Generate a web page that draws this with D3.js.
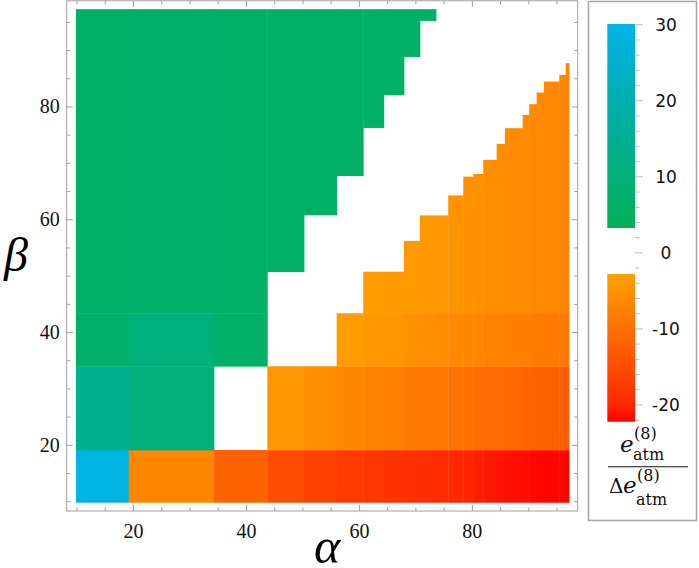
<!DOCTYPE html>
<html>
<head>
<meta charset="utf-8">
<script src="https://cdn.jsdelivr.net/npm/d3@7"></script>
<style>
  body { margin: 0; background: #fff; }
  svg { display: block; }
</style>
</head>
<body>
<script>
const SERIF = '"Liberation Serif"';
const TEXSERIF = '"DejaVu Serif"';
const SANS = '"DejaVu Sans"';

// column edges along alpha (23 columns)
const alphaEdges = [9.9, 19.24, 34.34, 43.78, 50.28, 56.06, 60.77, 64.4, 67.98, 70.8, 73.65,
  75.82, 78.48, 80.25, 82.02, 84.39, 85.86, 88.99, 90.16, 91.47, 92.77, 95.48, 96.61, 97.2];
// beta edges of the three lower bands, then the top of the data
const bandEdges = [9.8, 19.08, 33.93, 43.33];
const betaMax = 97.26;

// values per column in each band (0 = inside white gap)
const band1Values = [29, -6.5, -12, -15, -16.5, -17.5, -18, -18.5, -19, -19.3, -19.6, -20, -20.3,
  -20.6, -20.9, -21.1, -21.3, -21.5, -21.7, -21.8, -21.9, -22, -22.1];
const band2Values = [14, 10, 0, -4, -5.5, -6.5, -7.2, -7.8, -8.3, -8.8, -9.2, -9.6, -10, -10.4,
  -10.7, -11, -11.3, -11.6, -11.8, -12, -12.2, -12.4, -12.6];
const band3Values = [6.5, 10.5, 5.5, 0, 0, -3.4, -4, -4.5, -5, -5.4, -5.8, -6.2, -6.5, -6.8,
  -7.1, -7.4, -7.7, -7.9, -8.1, -8.3, -8.5, -8.6, -8.7];

// upper band (beta > 43.33): orange part up to orangeTop, green part from greenBottom
const orangeTop = [null, null, null, null, null, null, 50.7, 50.7, 56.16, 60.68, 60.68, 64.23,
  67.56, 68.04, 70.53, 73.37, 76.15, 78.51, 80.41, 82.47, 84.42, 85.6, 87.68];
const orangeValues = [null, null, null, null, null, null, -3.2, -3.5, -3.8, -4.1, -4.4, -4.7,
  -5, -5.2, -5.4, -5.6, -5.8, -6, -6.2, -6.3, -6.4, -6.5, -6.6];
const greenBottom = [43.33, 43.33, 43.33, 50.71, 60.77, 67.74, 76.26, 82.06, 88.85, 95.24,
  null, null, null, null, null, null, null, null, null, null, null, null, null];
const greenValues = [5.9, 6.3, 6, 5.9, 5.9, 5.9, 5.9, 5.9, 5.9, 5.9,
  null, null, null, null, null, null, null, null, null, null, null, null, null];

const majorTicks = [20, 40, 60, 80];
const minorTicks = [10, 15, 25, 30, 35, 45, 50, 55, 65, 70, 75, 85, 90, 95];

const colorValues = [-22.2, -20, -10, -2.8, 3.3, 10, 20, 30.1];
const colorHexes = ["#ff0000", "#ff2800", "#ff7000", "#ffa000", "#00b05c", "#00b078", "#00afb0", "#00b4e8"];
const legendTicks = [30, 20, 10, 0, -10, -20];

const negColor = d3.scaleLinear().domain(colorValues.slice(0, 4)).range(colorHexes.slice(0, 4)).clamp(true);
const posColor = d3.scaleLinear().domain(colorValues.slice(4)).range(colorHexes.slice(4)).clamp(true);
function color(v) {
  if (v > -2.8 && v < 3.3) return "#ffffff";
  return v <= -2.8 ? negColor(v) : posColor(v);
}

// build rectangles in data coordinates
const cells = [];
const bands = [band1Values, band2Values, band3Values];
for (let j = 0; j < alphaEdges.length - 1; j++) {
  const a0 = alphaEdges[j], a1 = alphaEdges[j + 1];
  bands.forEach((vals, i) => {
    cells.push({a0, a1, b0: bandEdges[i], b1: bandEdges[i + 1], v: vals[j]});
  });
  if (orangeTop[j] != null) cells.push({a0, a1, b0: bandEdges[3], b1: orangeTop[j], v: orangeValues[j]});
  if (greenBottom[j] != null) cells.push({a0, a1, b0: greenBottom[j], b1: betaMax, v: greenValues[j]});
}

const svg = d3.select("body").append("svg").attr("width", 699).attr("height", 568);

const x = d3.scaleLinear().domain([8.26, 98.74]).range([66.7, 577.7]);
const y = d3.scaleLinear().domain([8.26, 98.74]).range([511, 0.8]);

svg.append("g")
  .selectAll("rect")
  .data(cells.filter(d => color(d.v) !== "#ffffff"))
  .enter()
  .append("rect")
  .attr("x", d => x(d.a0))
  .attr("y", d => y(d.b1))
  .attr("width", d => x(d.a1) - x(d.a0) + 0.4)
  .attr("height", d => y(d.b0) - y(d.b1) + 0.4)
  .attr("fill", d => color(d.v));

// frame
svg.append("rect")
  .attr("x", x.range()[0]).attr("y", y.range()[1])
  .attr("width", x.range()[1] - x.range()[0])
  .attr("height", y.range()[0] - y.range()[1])
  .attr("fill", "none").attr("stroke", "#a0a0a0").attr("stroke-width", 1);

function frameAxis(axisFn, scale, tx, ty, labels) {
  const major = svg.append("g").attr("transform", `translate(${tx},${ty})`)
    .call(axisFn(scale).tickValues(majorTicks).tickSizeInner(-6).tickSizeOuter(0)
      .tickPadding(labels ? (axisFn === d3.axisBottom ? 13 : 7) : 0)
      .tickFormat(labels ? d3.format("d") : ""));
  const minor = svg.append("g").attr("transform", `translate(${tx},${ty})`)
    .call(axisFn(scale).tickValues(minorTicks).tickSizeInner(-3.5).tickSizeOuter(0).tickFormat(""));
  [major, minor].forEach(g => {
    g.select(".domain").remove();
    g.selectAll("line").attr("stroke", "#a0a0a0");
  });
  major.selectAll("text")
    .style("font-family", SERIF)
    .style("font-size", "20px")
    .attr("fill", "#111");
}
frameAxis(d3.axisBottom, x, 0, y.range()[0], true);
frameAxis(d3.axisTop, x, 0, y.range()[1], false);
frameAxis(d3.axisLeft, y, x.range()[0], 0, true);
frameAxis(d3.axisRight, y, x.range()[1], 0, false);

// axis titles
svg.append("text")
  .attr("x", 327).attr("y", 563)
  .attr("text-anchor", "middle")
  .style("font-family", SERIF)
  .style("font-style", "italic")
  .style("font-size", "50px")
  .text("α");
svg.append("text")
  .attr("x", 16).attr("y", 271)
  .attr("text-anchor", "middle")
  .style("font-family", SERIF)
  .style("font-style", "italic")
  .style("font-size", "48px")
  .text("β");

// legend
svg.append("rect")
  .attr("x", 588.5).attr("y", 1.5).attr("width", 108).attr("height", 519)
  .attr("fill", "#fff").attr("stroke", "#a8a8a8").attr("stroke-width", 1.6);

const cb = d3.scaleLinear().domain([-22.2, 30.1]).range([421.7, 24]);
const grad = svg.append("defs").append("linearGradient")
  .attr("id", "cbar").attr("x1", 0).attr("y1", 0).attr("x2", 0).attr("y2", 1);
const span = cb.domain()[1] - cb.domain()[0];
const off = v => (cb.domain()[1] - v) / span;
const stops = [];
colorValues.slice(4).reverse().forEach((v, i) => stops.push([off(v), colorHexes[colorHexes.length - 1 - i]]));
stops.push([off(3.3), "#ffffff"], [off(-2.8), "#ffffff"]);
colorValues.slice(0, 4).reverse().forEach((v, i) => stops.push([off(v), colorHexes[3 - i]]));
grad.selectAll("stop").data(stops).enter().append("stop")
  .attr("offset", d => d[0]).attr("stop-color", d => d[1]);

svg.append("rect")
  .attr("x", 607.3).attr("y", cb(30.1))
  .attr("width", 27.7).attr("height", cb(-22.2) - cb(30.1))
  .attr("fill", "url(#cbar)");

const cbTicks = d3.range(-22, 31, 2);
svg.append("g").selectAll("line").data(cbTicks).enter().append("line")
  .attr("x1", 635).attr("x2", d => d % 10 === 0 ? 643 : 639.5)
  .attr("y1", d => cb(d)).attr("y2", d => cb(d))
  .attr("stroke", "#bbb").attr("stroke-width", 1);

svg.append("g").selectAll("text").data(legendTicks).enter().append("text")
  .attr("x", 666).attr("y", d => cb(d)).attr("dy", "0.36em")
  .attr("text-anchor", "middle")
  .style("font-family", SANS)
  .style("font-size", "17px")
  .attr("fill", "#111")
  .text(d => d);

// colorbar label: e_atm^(8) / Δ e_atm^(8)
const lab = svg.append("g").attr("fill", "#111");
function eAtm(x0, base, supDy, subDy) {
  lab.append("text").attr("x", x0).attr("y", base)
    .style("font-family", TEXSERIF).style("font-style", "italic").style("font-size", "23px").text("e");
  lab.append("text").attr("x", x0 + 14).attr("y", base - supDy)
    .style("font-family", TEXSERIF).style("font-size", "16px").text("(8)");
  lab.append("text").attr("x", x0 + 13).attr("y", base + subDy)
    .style("font-family", TEXSERIF).style("font-size", "16px").text("atm");
}
eAtm(620, 452, 13, 8);
lab.append("line").attr("x1", 608).attr("x2", 688).attr("y1", 466.7).attr("y2", 466.7)
  .attr("stroke", "#111").attr("stroke-width", 1.1);
lab.append("text").attr("x", 609).attr("y", 493)
  .style("font-family", TEXSERIF).style("font-size", "20px").text("Δ");
eAtm(623, 493, 12, 12);
</script>
</body>
</html>
